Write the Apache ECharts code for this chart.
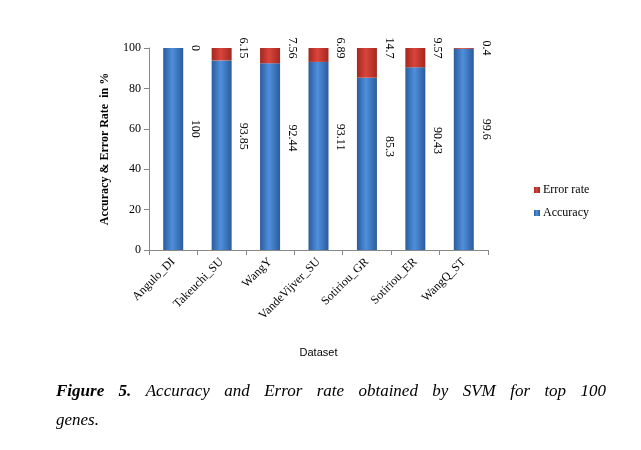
<!DOCTYPE html>
<html>
<head>
<meta charset="utf-8">
<script src="https://cdn.jsdelivr.net/npm/echarts@6/dist/echarts.min.js"></script>
<style>html,body{margin:0;padding:0;background:#fff;}#c{width:641px;height:450px;}</style>
</head>
<body>
<div id="c"></div>
<script>
const categories = ['Angulo_DI','Takeuchi_SU','WangY','VandeVijver_SU','Sotiriou_GR','Sotiriou_ER','WangQ_ST'];
const accuracy = [100, 93.85, 92.44, 93.11, 85.3, 90.43, 99.6];
const errorRate = [0, 6.15, 7.56, 6.89, 14.7, 9.57, 0.4];
const yTicks = [0, 20, 40, 60, 80, 100];

const serif = '"Liberation Serif", "DejaVu Serif", serif';
const chart = echarts.init(document.getElementById('c'));

function hGrad(edge, mid) {
  return new echarts.graphic.LinearGradient(0, 0, 1, 0, [
    {offset: 0, color: edge}, {offset: 0.45, color: mid}, {offset: 1, color: edge}
  ]);
}

// caption, justified on first line
const capFontR = 'italic 17px ' + serif;
const capFontB = 'italic bold 17px ' + serif;
const cv = document.createElement('canvas').getContext('2d');
function w(t, f) { cv.font = f; return cv.measureText(t).width; }
const line1 = [
  {t: 'Figure', f: capFontB}, {t: '5.', f: capFontB}, {t: 'Accuracy', f: capFontR}, {t: 'and', f: capFontR},
  {t: 'Error', f: capFontR}, {t: 'rate', f: capFontR}, {t: 'obtained', f: capFontR}, {t: 'by', f: capFontR},
  {t: 'SVM', f: capFontR}, {t: 'for', f: capFontR}, {t: 'top', f: capFontR}, {t: '100', f: capFontR}
];
const capLeft = 56, capRight = 606;
const totalW = line1.reduce((s, o) => s + w(o.t, o.f), 0);
const gap = (capRight - capLeft - totalW) / (line1.length - 1);
const graphics = [];
let cx = capLeft;
line1.forEach(o => {
  graphics.push({type: 'text', left: cx, top: 383, style: {text: o.t, font: o.f, fill: '#000'}});
  cx += w(o.t, o.f) + gap;
});
graphics.push({type: 'text', left: capLeft, top: 412, style: {text: 'genes.', font: capFontR, fill: '#000'}});

chart.setOption({
  animation: false,
  backgroundColor: '#fff',
  grid: {left: 149, right: 153, top: 48, bottom: 200, containLabel: false},
  legend: {
    data: ['Error rate', 'Accuracy'],
    orient: 'vertical', left: 529, top: 179,
    itemWidth: 6, itemHeight: 6, itemGap: 11,
    icon: 'rect',
    textStyle: {fontFamily: serif, fontSize: 12, color: '#000', padding: [0, 0, 0, -2]}
  },
  xAxis: {
    type: 'category',
    data: categories,
    name: 'Dataset',
    nameLocation: 'middle',
    nameGap: 97,
    nameTextStyle: {fontFamily: '"Liberation Sans", Arial, sans-serif', fontSize: 11, color: '#000'},
    axisLine: {lineStyle: {color: '#888'}},
    axisTick: {show: true, length: 5, lineStyle: {color: '#888'}},
    axisLabel: {rotate: 45, fontFamily: serif, fontSize: 12, color: '#000', margin: 10}
  },
  yAxis: {
    type: 'value',
    min: yTicks[0], max: yTicks[yTicks.length - 1], interval: 20,
    name: 'Accuracy & Error Rate  in %',
    nameLocation: 'middle',
    nameGap: 38,
    nameTextStyle: {fontFamily: serif, fontSize: 12, fontWeight: 'bold', color: '#000'},
    axisLine: {show: true, lineStyle: {color: '#888'}},
    axisTick: {show: true, length: 5, lineStyle: {color: '#888'}},
    axisLabel: {fontFamily: serif, fontSize: 12, color: '#000', margin: 8},
    splitLine: {show: false}
  },
  series: [
    {
      name: 'Accuracy', type: 'bar', stack: 's', barWidth: 20,
      data: accuracy,
      itemStyle: {color: hGrad('#2b5c9c', '#4f8fdc')},
      label: {
        show: true, position: [32, '40%'], rotate: -90, align: 'center', verticalAlign: 'middle',
        fontFamily: serif, fontSize: 12, color: '#000'
      }
    },
    {
      name: 'Error rate', type: 'bar', stack: 's', barWidth: 20,
      data: errorRate,
      itemStyle: {color: hGrad('#a3271f', '#d9453b')},
      label: {
        show: true, position: [32, 0], rotate: -90, align: 'center', verticalAlign: 'middle',
        fontFamily: serif, fontSize: 12, color: '#000'
      }
    }
  ],
  graphic: graphics
});
</script>
</body>
</html>
